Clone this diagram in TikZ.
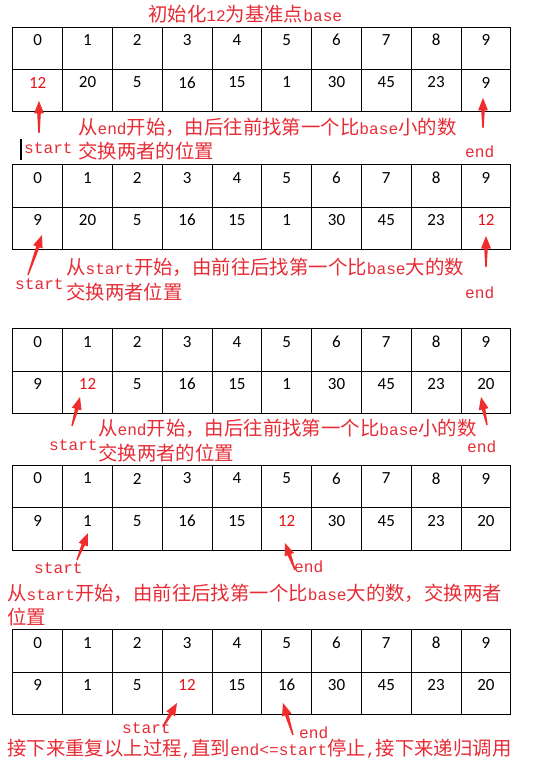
\documentclass[tikz,border=0pt]{standalone}
\usepackage{fontspec}
\usetikzlibrary{calc}
\newfontfamily\cjf{Noto Sans CJK SC}
\newfontfamily\enf[Scale=0.833]{Liberation Mono}
\newfontfamily\tabf{Carlito}
\newcommand\en[1]{{\enf #1}}
\definecolor{cjkred}{RGB}{230,45,55}
\definecolor{numred}{RGB}{230,20,25}
\definecolor{arrowred}{RGB}{240,45,45}
\tikzset{
  cellbox/.style={draw=black, line width=1pt, minimum width=49.8pt, minimum height=42.3pt, inner sep=0pt, anchor=north west},
  num/.style={font=\tabf\fontsize{17}{18}\selectfont, inner sep=0pt, anchor=center},
  note/.style={font=\cjf\fontsize{19.4}{21}\selectfont, text=cjkred, inner sep=0pt, anchor=base west},
}
\newcommand\arraytable[4]{%
  \foreach \v [count=\k from 0] in {#3} {
    \node[cellbox] (#1i\k) at (12.3+49.8*\k, #2) {};
    \node[cellbox] (#1v\k) at (12.3+49.8*\k, #2+42.3) {};
    \node[num] (#1ni\k) at ([yshift=-13.5pt]#1i\k.north) {\k};
    \ifnum\k=#4 \def\col{numred}\else\def\col{black}\fi
    \node[num, text=\col] (#1nv\k) at ([yshift=-13.5pt]#1v\k.north) {\v};
  }}
\newcommand\redarrow[2]{%
  \coordinate (ab) at ($(#2)!12.5pt!(#1)$);
  \fill[arrowred] ($(#1)!0.7pt!90:(#2)$) -- ($(ab)!1.8pt!90:(#2)$) -- ($(ab)!5pt!90:(#2)$) -- (#2)
    -- ($(ab)!5pt!-90:(#2)$) -- ($(ab)!1.8pt!-90:(#2)$) -- ($(#1)!0.7pt!-90:(#2)$) -- cycle;}
\begin{document}
\begin{tikzpicture}[x=1pt, y=-1pt]
\useasboundingbox (0,0) rectangle (535,767);
\fill[white] (0,0) rectangle (535,767);

% ---------- block 1 ----------
\node[note] (title) at (148,21.4) {初始化\en{12}为基准点\en{base}};
\arraytable{a}{26.7}{12,20,5,16,15,1,30,45,23,9}{0}
\node[note] (a1) at (78,134.4) {从\en{end}开始，由后往前找第一个比\en{base}小的数};
\node[note] (a2) at (78,158.4) {交换两者的位置};
\node[note] (as) at (24,153.3) {\en{start}};
\node[note] (ae) at (465,157.5) {\en{end}};
\draw[black, line width=1.3pt] (21,139) -- (21,160);
\coordinate (ast) at (39,133); \coordinate (ash) at (39,101);
\coordinate (aet) at (483,128); \coordinate (aeh) at (483,98);
\redarrow{ast}{ash}
\redarrow{aet}{aeh}

% ---------- block 2 ----------
\arraytable{b}{164.3}{9,20,5,16,15,1,30,45,23,12}{9}
\node[note] (b1) at (66,274.4) {从\en{start}开始，由前往后找第一个比\en{base}大的数};
\node[note] (b2) at (66,299.4) {交换两者位置};
\node[note] (bs) at (15,289.3) {\en{start}};
\node[note] (be) at (465,298.3) {\en{end}};
\coordinate (bst) at (28,275); \coordinate (bsh) at (42,235);
\coordinate (bet) at (486,267); \coordinate (beh) at (486,236);
\redarrow{bst}{bsh}
\redarrow{bet}{beh}

% ---------- block 3 ----------
\arraytable{c}{328.3}{9,12,5,16,15,1,30,45,23,20}{1}
\node[note] (c1) at (98,435.4) {从\en{end}开始，由后往前找第一个比\en{base}小的数};
\node[note] (c2) at (98,460.4) {交换两者的位置};
\node[note] (cs) at (49,450.3) {\en{start}};
\node[note] (ce) at (467,452.3) {\en{end}};
\coordinate (cst) at (72,426); \coordinate (csh) at (80,397);
\coordinate (cet) at (487,425); \coordinate (ceh) at (481,397);
\redarrow{cst}{csh}
\redarrow{cet}{ceh}

% ---------- block 4 ----------
\arraytable{d}{465}{9,1,5,16,15,12,30,45,23,20}{5}
\node[note] (ds) at (34,573.3) {\en{start}};
\node[note] (de) at (294,572.3) {\en{end}};
\node[note] (d1) at (7,600.4) {从\en{start}开始，由前往后找第一个比\en{base}大的数，交换两者};
\node[note] (d2) at (7,624.4) {位置};
\coordinate (dst) at (77,560); \coordinate (dsh) at (88,533);
\coordinate (det) at (295,570); \coordinate (deh) at (285,543);
\redarrow{dst}{dsh}
\redarrow{det}{deh}

% ---------- block 5 ----------
\arraytable{e}{629.3}{9,1,5,12,15,16,30,45,23,20}{3}
\node[note] (es) at (122,733.3) {\en{start}};
\node[note] (ee) at (299,738.3) {\en{end}};
\node[note] (e1) at (7,755.4) {接下来重复以上过程\en{,}直到\en{end<=start}停止\en{,}接下来递归调用};
\coordinate (est) at (163,727); \coordinate (esh) at (177,703);
\coordinate (eet) at (293,735); \coordinate (eeh) at (283,703);
\redarrow{est}{esh}
\redarrow{eet}{eeh}
\end{tikzpicture}
\end{document}
